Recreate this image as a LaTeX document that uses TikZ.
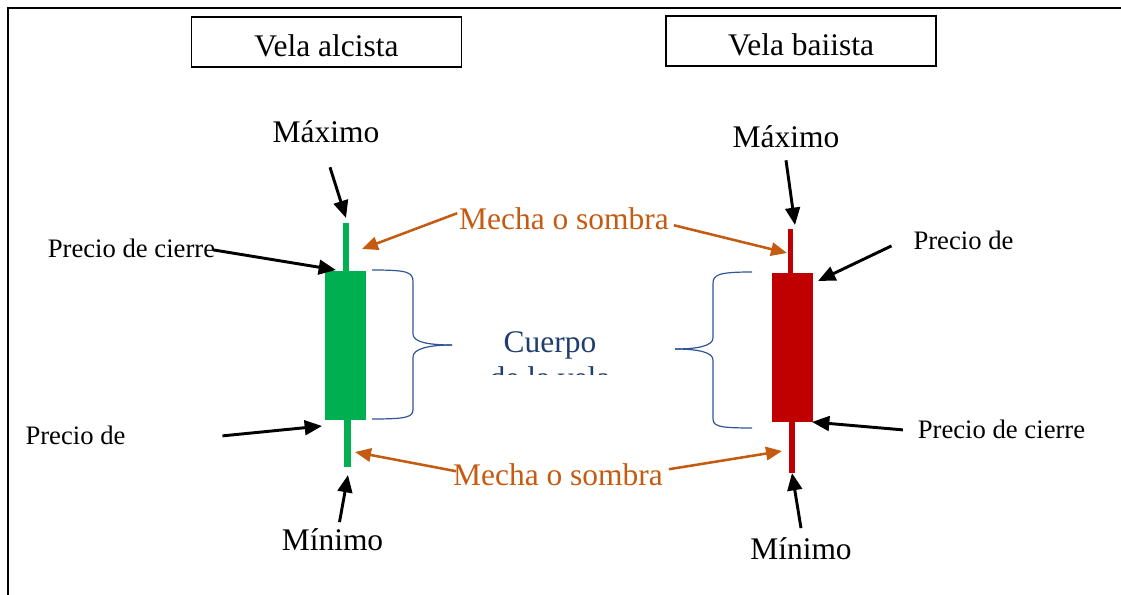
\documentclass[tikz,border=0pt]{standalone}
\usepackage{fontspec}
\setmainfont{Liberation Serif}
\usepackage{xcolor}
\usetikzlibrary{arrows.meta}

\definecolor{velaverde}{HTML}{00B050}
\definecolor{velaroja}{HTML}{C00000}
\definecolor{mecha}{HTML}{C55A11}
\definecolor{cuerpotxt}{HTML}{203D70}
\definecolor{llave}{HTML}{2F5597}

\begin{document}
\begin{tikzpicture}[x=0.75pt,y=-0.75pt]
\tikzset{every node/.style={inner sep=0pt,outer sep=0pt}}
\tikzset{grande/.style={font=\fontsize{23.6}{27}\selectfont}}
\tikzset{chico/.style={font=\fontsize{20}{24}\selectfont}}
\tikzset{titulo/.style={grande,draw,line width=0.9pt,minimum width=202.5pt,minimum height=37.5pt,text height=22.5pt,text depth=0pt}}
\tikzset{etiqueta/.style={anchor=base}}
\tikzset{flecha/.style={line width=2.2pt,-{Triangle[length=13pt,width=11pt]}}}
\tikzset{flechamecha/.style={draw=mecha,line width=1.9pt,-{Triangle[length=12pt,width=10pt]},color=mecha}}
\tikzset{llavestyle/.style={draw=llave,line width=0.9pt}}

\useasboundingbox (0,0) rectangle (1121,595);

% marco
\draw[line width=1.6pt] (8,595) -- (8,8) -- (1121,8);

% titulos
\node[titulo] (tituloA) at (326.5,42) {Vela alcista};
\node[titulo] (tituloB) at (801,41) {Vela baiista};

% velas
\fill[velaverde] (343,223) rectangle (349,271);
\fill[velaverde] (325,271) rectangle (366,420);
\fill[velaverde] (344,420) rectangle (351,467);
\fill[velaroja] (788,229) rectangle (793,273);
\fill[velaroja] (772,273) rectangle (813,422);
\fill[velaroja] (789,422) rectangle (795,473);

% puntas de flecha
\coordinate (hiA) at (346,218);
\coordinate (cierreTipA) at (336,270);
\coordinate (aperTipA) at (322,426);
\coordinate (loA) at (348,475);
\coordinate (hiB) at (795,225);
\coordinate (aperTipB) at (818,281);
\coordinate (cierreTipB) at (812,422);
\coordinate (loB) at (792,473);
\coordinate (wickTA) at (362,249);
\coordinate (wickTB) at (787,253);
\coordinate (wickBA) at (355,452);
\coordinate (wickBB) at (782,451);

% etiquetas
\node[grande,etiqueta] (maxA) at (326,143) {Máximo};
\node[grande,etiqueta] (maxB) at (786,148) {Máximo};
\node[grande,etiqueta] (minA) at (332.5,550) {Mínimo};
\node[grande,etiqueta] (minB) at (801,559) {Mínimo};
\node[chico,etiqueta] (cierreA) at (131.5,258) {Precio de cierre};
\node[chico,etiqueta] (aperA) at (75.5,444) {Precio de};
\node[chico,etiqueta] (aperB) at (963.5,250) {Precio de};
\node[chico,etiqueta] (cierreB) at (1001.5,438) {Precio de cierre};
\node[grande,etiqueta,text=mecha] (mechaT) at (564,230) {Mecha o sombra};
\node[grande,etiqueta,text=mecha] (mechaB) at (558,485) {Mecha o sombra};

\begin{scope}
\clip (440,300) rectangle (660,374);
\node[grande,etiqueta,text=cuerpotxt,align=center] (cuerpo) at (550,388) {Cuerpo\\de la vela};
\end{scope}

% llaves
\draw[llavestyle] (372,270) .. controls (408,270) and (413,272) .. (413,282) -- (413,334)
  .. controls (413,342) and (428,345) .. (452,345);
\draw[llavestyle] (452,345) .. controls (428,345) and (413,349) .. (413,357) -- (413,409)
  .. controls (413,417) and (408,419) .. (372,419);
\draw[llavestyle] (752,272) .. controls (717,272) and (713,275) .. (713,284) -- (713,338)
  .. controls (713,346) and (697,349) .. (675,349);
\draw[llavestyle] (675,349) .. controls (697,349) and (713,352) .. (713,360) -- (713,418)
  .. controls (713,426) and (717,428) .. (752,428);

% flechas negras
\draw[flecha] ([shift={(4,24)}]maxA.south) -- (hiA);
\draw[flecha] ([shift={(-2,1)}]cierreA.east) -- (cierreTipA);
\draw[flecha] ([shift={(97,1)}]aperA.east) -- (aperTipA);
\draw[flecha] ([shift={(7,-6)}]minA.north) -- (loA);
\draw[flecha] ([shift={(0,12)}]maxB.south) -- (hiB);
\draw[flecha] ([shift={(-22,5)}]aperB.west) -- (aperTipB);
\draw[flecha] ([shift={(-15,1)}]cierreB.west) -- (cierreTipB);
\draw[flecha] ([shift={(0,-9)}]minB.north) -- (loB);

% flechas de la mecha
\draw[flechamecha] ([shift={(-2,-6)}]mechaT.west) -- (wickTA);
\draw[flechamecha] ([shift={(5,6)}]mechaT.east) -- (wickTB);
\draw[flechamecha] ([shift={(3,-3)}]mechaB.west) -- (wickBA);
\draw[flechamecha] ([shift={(6,-5)}]mechaB.east) -- (wickBB);

\end{tikzpicture}
\end{document}
